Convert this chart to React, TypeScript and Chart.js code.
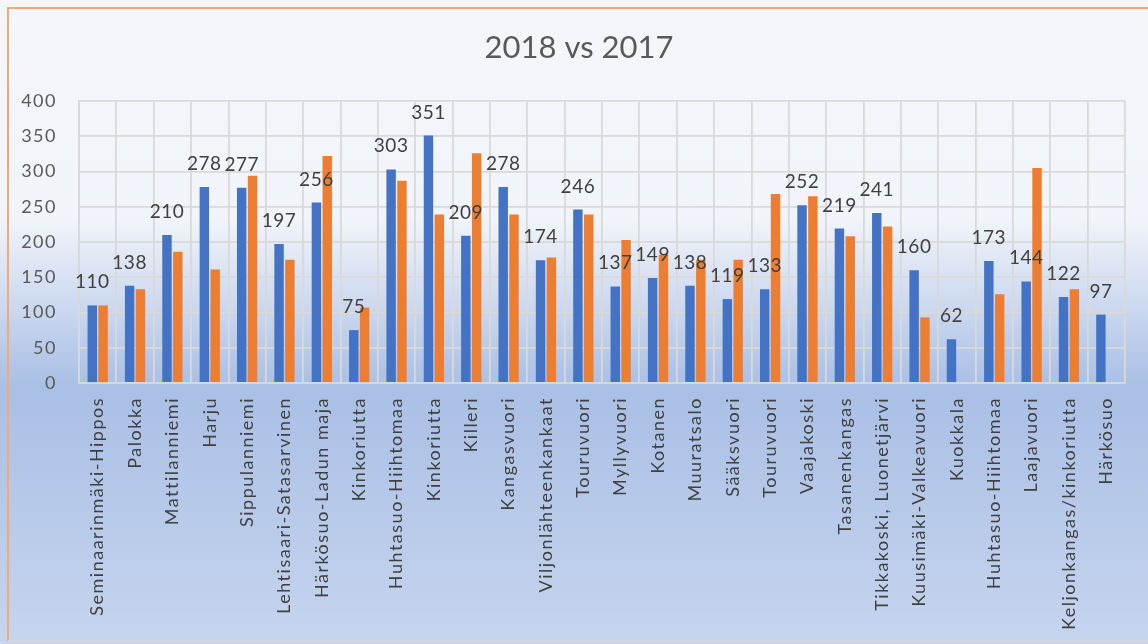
import React, { useEffect, useRef } from 'react';
import { Chart, registerables } from 'chart.js';

Chart.register(...registerables);

const titleText = '2018 vs 2017';

const categories = [
  'Seminaarinmäki-Hippos',
  'Palokka',
  'Mattilanniemi',
  'Harju',
  'Sippulanniemi',
  'Lehtisaari-Satasarvinen',
  'Härkösuo-Ladun maja',
  'Kinkoriutta',
  'Huhtasuo-Hiihtomaa',
  'Kinkoriutta',
  'Killeri',
  'Kangasvuori',
  'Viljonlähteenkankaat',
  'Touruvuori',
  'Myllyvuori',
  'Kotanen',
  'Muuratsalo',
  'Sääksvuori',
  'Touruvuori',
  'Vaajakoski',
  'Tasanenkangas',
  'Tikkakoski, Luonetjärvi',
  'Kuusimäki-Valkeavuori',
  'Kuokkala',
  'Huhtasuo-Hiihtomaa',
  'Laajavuori',
  'Keljonkangas/kinkoriutta',
  'Härkösuo',
];

const values2018 = [110, 138, 210, 278, 277, 197, 256, 75, 303, 351, 209, 278, 174, 246, 137, 149, 138, 119, 133, 252, 219, 241, 160, 62, 173, 144, 122, 97];
const values2017 = [110, 133, 186, 161, 294, 175, 322, 107, 287, 239, 326, 239, 178, 239, 203, 182, 175, 175, 268, 265, 208, 222, 93, null, 126, 305, 133, null];

const yMin = 0;
const yMax = 400;
const yStep = 50;

const FONT = 'Lato, "Open Sans", sans-serif';

const backgroundPlugin = {
  id: 'bgPlugin',
  beforeDraw(chart: any) {
    const { ctx, width, height } = chart;
    ctx.save();
    const g = ctx.createLinearGradient(0, 0, 0, height);
    g.addColorStop(0, '#f5f6fa');
    g.addColorStop(0.34, '#f1f4fa');
    g.addColorStop(0.6, '#a9bfe5');
    g.addColorStop(1, '#c6d5ee');
    ctx.fillStyle = g;
    ctx.fillRect(0, 0, width, height);
    // border
    ctx.strokeStyle = '#f2a877';
    ctx.lineWidth = 2;
    ctx.beginPath();
    ctx.moveTo(8, height - 3);
    ctx.lineTo(8, 8);
    ctx.lineTo(width, 8);
    ctx.stroke();
    ctx.strokeStyle = '#d2d6de';
    ctx.beginPath();
    ctx.moveTo(8, height - 3);
    ctx.lineTo(width, height - 3);
    ctx.stroke();
    // title
    ctx.fillStyle = '#595959';
    ctx.font = `31px ${FONT}`;
    ctx.textAlign = 'center';
    ctx.textBaseline = 'middle';
    ctx.fillText(titleText, 579, 48);
    ctx.restore();
    // letter spacing for axis labels
    (ctx as any).letterSpacing = '1.5px';
  },
  beforeDatasetsDraw(chart: any) {
    (chart.ctx as any).letterSpacing = '0px';
  },
};

const labelPlugin = {
  id: 'valueLabels',
  afterDatasetsDraw(chart: any) {
    const { ctx } = chart;
    const meta = chart.getDatasetMeta(0);
    ctx.save();
    (ctx as any).letterSpacing = '0.5px';
    ctx.fillStyle = '#404040';
    ctx.font = `19px ${FONT}`;
    ctx.textAlign = 'center';
    ctx.textBaseline = 'alphabetic';
    meta.data.forEach((bar: any, i: number) => {
      const v = values2018[i];
      if (v == null) return;
      ctx.fillText(String(v), bar.x, bar.y - 17);
    });
    ctx.restore();
  },
};

export default function App() {
  const canvasRef = useRef<HTMLCanvasElement | null>(null);

  useEffect(() => {
    if (!canvasRef.current) return;
    const chart = new Chart(canvasRef.current, {
      type: 'bar',
      data: {
        labels: categories,
        datasets: [
          {
            label: '2018',
            data: values2018,
            backgroundColor: '#4472c4',
            categoryPercentage: 0.58,
            barPercentage: 0.87,
          },
          {
            label: '2017',
            data: values2017,
            backgroundColor: '#ed7d31',
            categoryPercentage: 0.58,
            barPercentage: 0.87,
          },
        ],
      },
      options: {
        responsive: false,
        animation: false,
        layout: { padding: { top: 101, right: 23, left: 0, bottom: 0 } },
        plugins: {
          legend: { display: false },
          title: { display: false },
          tooltip: { enabled: false },
        },
        scales: {
          x: {
            grid: { color: '#d9d9d9', lineWidth: 1.8, drawTicks: false, offset: true },
            border: { display: true, color: '#d9d9d9', width: 1.8 },
            ticks: {
              autoSkip: false,
              maxRotation: 90,
              minRotation: 90,
              padding: 14,
              color: '#404040',
              font: { family: FONT, size: 18 },
            },
            afterFit: (scale: any) => {
              scale.height = 261;
            },
          },
          y: {
            min: yMin,
            max: yMax,
            grid: { color: '#d9d9d9', lineWidth: 1.8, drawTicks: false },
            border: { display: true, color: '#d9d9d9', width: 1.8 },
            ticks: {
              stepSize: yStep,
              padding: 22,
              color: '#595959',
              font: { family: FONT, size: 18 },
            },
            afterFit: (scale: any) => {
              scale.width = 79;
            },
          },
        },
      },
      plugins: [backgroundPlugin, labelPlugin],
    });
    return () => chart.destroy();
  }, []);

  return (
    <div style={{ position: 'absolute', left: 0, top: 0, width: 1148, height: 644 }}>
      <canvas ref={canvasRef} width={1148} height={644} style={{ width: 1148, height: 644, display: 'block' }} />
    </div>
  );
}
